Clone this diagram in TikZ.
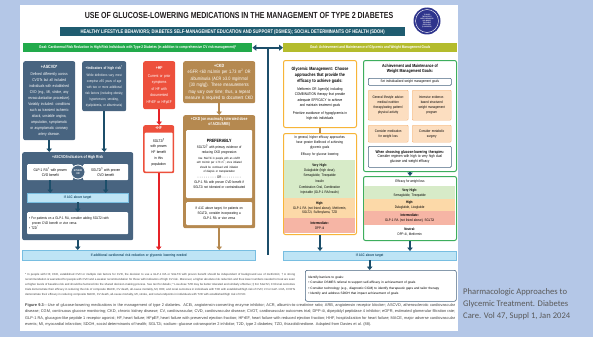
\documentclass[tikz,border=0pt]{standalone}
\usepackage{fontspec}
\setmainfont[FakeStretch=0.8]{Liberation Sans}
\newfontfamily\plainfont{Liberation Sans}
\newfontfamily\notefont{Carlito}
\usetikzlibrary{arrows.meta,positioning}

\definecolor{bgblue}{RGB}{180,199,231}
\definecolor{titleink}{RGB}{35,31,32}
\definecolor{bannerteal}{RGB}{31,92,112}
\definecolor{logoblue}{RGB}{46,52,140}
\definecolor{goalgreen}{RGB}{34,170,75}
\definecolor{goalolive}{RGB}{180,188,45}
\definecolor{slate}{RGB}{72,100,128}
\definecolor{arrowteal}{RGB}{28,78,106}
\definecolor{hfred}{RGB}{237,80,60}
\definecolor{hfarrow}{RGB}{230,35,40}
\definecolor{ckdtan}{RGB}{181,137,80}
\definecolor{barfill}{RGB}{190,228,245}
\definecolor{barline}{RGB}{120,190,225}
\definecolor{glyyellow}{RGB}{247,181,56}
\definecolor{bandgreen}{RGB}{215,235,200}
\definecolor{bandorange}{RGB}{252,217,168}
\definecolor{bandpink}{RGB}{246,181,165}
\definecolor{wtgreen}{RGB}{61,174,93}
\definecolor{optfill}{RGB}{252,222,192}
\definecolor{optline}{RGB}{245,180,120}
\definecolor{noteink}{RGB}{64,64,64}
\definecolor{capgray}{RGB}{89,89,89}

\newcommand{\tsize}[2]{\fontsize{#1}{#2}\selectfont}

\begin{document}
\begin{tikzpicture}[x=1pt, y=-1pt,
    every node/.style={inner sep=0pt},
    at nw/.style={anchor=north west},
    wh/.style 2 args={text width=#1pt, minimum height=#2pt},
    hdr/.style={at nw, minimum height=9pt, text=white, font={\bfseries\tsize{3.9}{4.5}}},
    riskbox/.style={at nw, fill=slate, rounded corners=2pt, text=white, align=center, font={\tsize{4}{6}}},
    hfbox/.style={at nw, fill=hfred, rounded corners=2pt, text=white, align=center, font={\tsize{4}{6.5}}},
    ckdbox/.style={at nw, fill=ckdtan, rounded corners=2pt, text=white, align=center, font={\tsize{4.8}{6.5}}},
    inbox/.style={at nw, fill=white, rounded corners=1pt, text=black, align=center},
    bar/.style={at nw, fill=barfill, draw=barline, line width=0.4pt, align=center, text=arrowteal, font={\bfseries\tsize{3.6}{4}}},
    glybox/.style={at nw, fill=white, draw=glyyellow, line width=1pt, rounded corners=2pt, align=center},
    wtbox/.style={at nw, fill=white, draw=wtgreen, line width=1pt, rounded corners=2pt},
    optbox/.style={at nw, fill=optfill, draw=optline, line width=0.4pt, rounded corners=1pt, align=center, font={\tsize{3.6}{5}}},
    bluebox/.style={at nw, fill=white, draw=slate, line width=0.6pt, rounded corners=1pt, align=center},
    band/.style={at nw, align=center, font={\tsize{3.6}{4.8}}},
    arr/.style={arrowteal, line width=1.8pt, -{Triangle[width=5.5pt,length=3.5pt]}},
    redarr/.style={arr, hfarrow},
    tanarr/.style={arr, ckdtan}]

\path[use as bounding box, fill=bgblue] (0,0) rectangle (593,337);
\fill[white] (20,5) rectangle (458,331);

\node[text=titleink, font={\bfseries\tsize{8.8}{9}}] (title) at (239,15) {USE OF GLUCOSE-LOWERING MEDICATIONS IN THE MANAGEMENT OF TYPE 2 DIABETES};
\node[circle, fill=logoblue, minimum size=27pt] (logo) at (427,21) {};
\draw[white, line width=0.4pt] (logo.center) circle (11.5);
\node[text=white, align=center, font={\bfseries\tsize{1.7}{2.1}}] (logotext) at (logo.center) {TO AVOID\\THERAPEUTIC\\INERTIA REASSESS\\AND MODIFY\\TREATMENT\\REGULARLY\\(3--6 MONTHS)};
\node[at nw, fill=bannerteal, minimum width=345pt, minimum height=9pt, text=white, font={\bfseries\tsize{5.2}{6}}] (banner) at (60,27) {HEALTHY LIFESTYLE BEHAVIORS; DIABETES SELF-MANAGEMENT EDUCATION AND SUPPORT (DSMES); SOCIAL DETERMINANTS OF HEALTH (SDOH)};

\node[hdr, fill=goalgreen, minimum width=229pt] (goalL) at (23,43) {Goal: Cardiorenal Risk Reduction in High-Risk Individuals with Type 2 Diabetes (in addition to comprehensive CV risk management)*};
\node[hdr, fill=goalolive, minimum width=174pt] (goalR) at (283,43) {Goal: Achievement and Maintenance of Glycemic and Weight Management Goals};
\coordinate (tee) at (268,47.5);
\coordinate (teefoot) at (268,255);
\draw[arrowteal, line width=2pt, {Triangle[width=6pt,length=4pt]}-{Triangle[width=6pt,length=4pt]}] (goalL.east) -- (goalR.west);
\draw[arrowteal, line width=2pt] (tee) -- (teefoot);

\node[riskbox, wh={52}{79}] (ascvd) at (23,61)
  {{\bfseries\tsize{4.6}{6}+ASCVD*\par}\vspace{1pt}
   Defined differently across\\CVOTs but all included\\individuals with established\\CVD (e.g., MI, stroke, any\\revascularization procedure).\\Variably included: conditions\\such as transient ischemic\\attack, unstable angina,\\amputation, symptomatic\\or asymptomatic coronary\\artery disease.};
\node[riskbox, wh={44}{50}, font={\tsize{3.5}{6}}] (risk) at (82,61)
  {{\bfseries\tsize{3.9}{6}+Indicators of high risk\textsuperscript{†}\par}\vspace{1pt}
   While definitions vary, most\\comprise ≥55 years of age\\with two or more additional\\risk factors (including obesity,\\hypertension, smoking,\\dyslipidemia, or albuminuria)};
\node[hfbox, wh={32}{48}] (hf) at (143,61)
  {{\bfseries\tsize{4.4}{6}+HF\par}\vspace{1pt}
   Current or prior\\symptoms\\of HF with\\documented\\HFrEF or HFpEF};
\node[ckdbox, wh={72}{42}] (ckd) at (183,61)
  {{\bfseries\tsize{4.6}{6}+CKD\par}
   eGFR <60 mL/min per 1.73 m\textsuperscript{2} OR\\albuminuria (ACR ≥3.0 mg/mmol\\{}[30 mg/g]). These measurements\\may vary over time; thus, a repeat\\measure is required to document CKD};

\node[hfbox, wh={31}{48}] (hfb) at (143,125) {};
\node[anchor=north, text=white, font={\bfseries\tsize{4.2}{5}}] (hfbtitle) at ([yshift=-1.5pt]hfb.north) {+HF};
\node[inbox, anchor=south, wh={28}{39}, font={\tsize{3.8}{5.8}}] (hfbtext) at ([yshift=1.5pt]hfb.south)
  {SGLT2i\textsuperscript{§}\\with proven\\HF benefit\\in this\\population};

\node[ckdbox, wh={72}{113}] (ckdb) at (183,115) {};
\node[anchor=north, text=white, align=center, font={\bfseries\tsize{4.2}{5}}] (ckdbtitle) at ([yshift=-2pt]ckdb.north) {+CKD (on maximally tolerated dose\\of ACEi/ARB)};
\node[inbox, wh={66}{68}, font={\tsize{3.6}{4.8}}] (ckdpref) at (186,130)
  {{\bfseries\tsize{4.6}{6}PREFERABLY\par}\vspace{1pt}
   SGLT2i\textsuperscript{§} with primary evidence of\\reducing CKD progression\par\vspace{2pt}
   {\tsize{3}{4.2}Use SGLT2i in people with an eGFR\\≥20 mL/min per 1.73 m\textsuperscript{2}; once initiated\\should be continued until initiation\\of dialysis or transplantation\par}\vspace{1pt}
   - - - - - - - - - OR - - - - - - - - -\par\vspace{1pt}
   GLP-1 RA with proven CVD benefit if\\SGLT2i not tolerated or contraindicated};
\node[inbox, wh={66}{23}, font={\tsize{3.6}{5}}] (ckdaddon) at (186,202)
  {If A1C above target, for patients on\\SGLT2i, consider incorporating a\\GLP-1 RA or vice versa};

\node[riskbox, wh={111}{88}] (grp) at (22,152) {};
\node[anchor=north, text=white, font={\bfseries\tsize{4.2}{5}}] (grptitle) at ([yshift=-3pt]grp.north) {+ASCVD/Indicators of High Risk};
\node[inbox, wh={46}{16}, font={\tsize{3.8}{5}}] (glp) at (27,164) {GLP-1 RA\textsuperscript{\#} with proven\\CVD benefit};
\node[inbox, wh={45}{16}, font={\tsize{3.8}{5}}] (sglt) at (83,164) {SGLT2i\textsuperscript{§} with proven\\CVD benefit};
\node[circle, fill=slate, draw=white, line width=0.8pt, minimum size=14pt, text=white, align=center, font={\bfseries\tsize{2.6}{3}}] (either) at (78,172) {EITHER/\\OR};
\node[bar, wh={101}{9}] (a1cL) at (27,193) {If A1C above target};
\node[inbox, wh={97}{22}, inner xsep=2pt, align=left, font={\tsize{3.6}{5}}] (addon) at (27,212)
  {• For patients on a GLP-1 RA, consider adding SGLT2i with\\\hspace*{3pt}proven CVD benefit or vice versa\\• TZD\textsuperscript{\textasciicircum}};
\node[bar, wh={233}{10}] (moreL) at (22,250) {If additional cardiorenal risk reduction or glycemic lowering needed};

\draw[arr] (ascvd.south) -- (ascvd.south |- grp.north);
\draw[arr] (risk.south) -- (risk.south |- grp.north);
\draw[arr] (glp.south) -- (glp.south |- a1cL.north);
\draw[arr] (sglt.south) -- (sglt.south |- a1cL.north);
\draw[arr] (a1cL.south) -- (a1cL.south |- addon.north);
\draw[arr] (grp.south) -- (grp.south |- moreL.north);
\draw[redarr] (hf.south) -- (hf.south |- hfb.north);
\draw[redarr] (hfb.south) -- (hfb.south |- moreL.north);
\draw[tanarr] (ckd.south) -- (ckd.south |- ckdb.north);
\draw[tanarr] (ckdb.south) -- (ckdb.south |- moreL.north);

\node[glybox, wh={73}{67}, font={\tsize{3.8}{5.3}}] (glyc) at (283,60)
  {{\bfseries\tsize{4.6}{5.8}Glycemic Management: Choose\\approaches that provide the\\efficacy to achieve goals:\par}\vspace{3pt}
   Metformin OR Agent(s) including\\COMBINATION therapy that provide\\adequate EFFICACY to achieve\\and maintain treatment goals\par\vspace{3pt}
   Prioritize avoidance of hypoglycemia in\\high-risk individuals};
\node[glybox, wh={73}{101}] (effg) at (283,133) {};
\node[at nw, text width=73pt, align=center, font={\tsize{3.6}{5}}] (efftop) at (283,136)
  {In general, higher efficacy approaches\\have greater likelihood of achieving\\glycemic goals\par\vspace{2pt}Efficacy for glucose lowering};
\node[band, fill=bandgreen, wh={71}{38}] (gvh) at (284,160)
  {{\bfseries Very High:}\\Dulaglutide (high dose),\\Semaglutide, Tirzepatide\par\vspace{1.5pt}Insulin\par\vspace{1.5pt}Combination Oral, Combination\\Injectable (GLP-1 RA/Insulin)};
\node[band, fill=bandorange, wh={71}{20}] (gh) at (284,198)
  {{\bfseries High:}\\GLP-1 RA (not listed above), Metformin,\\SGLT2i, Sulfonylurea, TZD};
\node[band, fill=bandpink, wh={71}{15}] (gi) at (284,218) {{\bfseries Intermediate:}\\DPP-4i};
\draw[ckdtan, line width=1.5pt] (glyc.south) -- (effg.north);

\node[wtbox, wh={93}{111}] (wt) at (363,60) {};
\node[anchor=north, align=center, font={\bfseries\tsize{4.4}{5.4}}] (wttitle) at ([yshift=-4pt]wt.north) {Achievement and Maintenance of\\Weight Management Goals:};
\node[bluebox, wh={83}{7}, font={\tsize{3.6}{4}}] (wtset) at (368,78) {Set individualized weight management goals};
\node[optbox, wh={40}{30}] (lifestyle) at (368,90) {General lifestyle advice:\\medical nutrition\\therapy/eating pattern/\\physical activity};
\node[optbox, wh={39}{30}] (program) at (412,90) {Intensive evidence-\\based structured\\weight management\\program};
\node[optbox, wh={40}{17}] (meds) at (368,125) {Consider medication\\for weight loss};
\node[optbox, wh={39}{17}] (surgery) at (412,125) {Consider metabolic\\surgery};
\node[bluebox, wh={83}{21}, font={\tsize{3.9}{4.8}}] (dual) at (368,146)
  {{\bfseries\tsize{4}{5}When choosing glucose-lowering therapies:\par}Consider regimen with high to very high dual\\glucose and weight efficacy};

\node[wtbox, wh={93}{64}] (wteff) at (363,176) {};
\node[anchor=north, font={\tsize{3.6}{4}}] (wtefftitle) at ([yshift=-3.5pt]wteff.north) {Efficacy for weight loss};
\node[band, fill=bandgreen, wh={91}{13}] (wvh) at (364,186) {{\bfseries Very High:}\\Semaglutide, Tirzepatide};
\node[band, fill=bandorange, wh={91}{12}] (whigh) at (364,199) {{\bfseries High:}\\Dulaglutide, Liraglutide};
\node[band, fill=bandpink, wh={91}{14}] (wint) at (364,211) {{\bfseries Intermediate:}\\GLP-1 RA (not listed above), SGLT2i};
\node[band, wh={91}{13}] (wneu) at (364,225) {{\bfseries Neutral:}\\DPP-4i, Metformin};
\draw[arr] (wt.south) -- (wteff.north);

\node[bar, wh={173}{9}] (a1cR) at (283,251) {If A1C above target};
\draw[arr] (effg.south) -- (effg.south |- a1cR.north);
\draw[arr] (wteff.south) -- (wteff.south |- a1cR.north);

\node[at nw, fill=white, draw=slate, line width=0.6pt, rounded corners=2pt, text width=145pt, inner xsep=3pt, minimum height=31pt, align=left, font={\plainfont\tsize{3.2}{5.4}}] (barriers) at (305,270)
  {Identify barriers to goals:\\
   • Consider DSMES referral to support self-efficacy in achievement of goals\\
   • Consider technology (e.g., diagnostic CGM) to identify therapeutic gaps and tailor therapy\\
   • Identify and address SDOH that impact achievement of goals};
\draw[arr] (a1cR.south) -- (a1cR.south |- barriers.north);

\node[at nw, text width=270pt, align=justify, text=noteink, font={\plainfont\tsize{2.85}{5}}] (foot) at (25,273)
  {* In people with HF, CKD, established CVD or multiple risk factors for CVD, the decision to use a GLP-1 RA or SGLT2i with proven benefit should be independent of background use of metformin; † A strong recommendation is warranted for people with CVD and a weaker recommendation for those with indicators of high CV risk. Moreover, a higher absolute risk reduction and thus lower numbers needed to treat are seen at higher levels of baseline risk and should be factored into the shared decision-making process. See text for details; \textasciicircum\ Low-dose TZD may be better tolerated and similarly effective; § For SGLT2i, CV/renal outcomes trials demonstrate their efficacy in reducing the risk of composite MACE, CV death, all-cause mortality, MI, HHF, and renal outcomes in individuals with T2D with established/high risk of CVD; \# For GLP-1 RA, CVOTs demonstrate their efficacy in reducing composite MACE, CV death, all-cause mortality, MI, stroke, and renal endpoints in individuals with T2D with established/high risk of CVD.};
\node[at nw, text width=430pt, align=justify, text=noteink, font={\plainfont\tsize{3.9}{6.5}}] (figcap) at (25,303)
  {\textbf{Figure 9.3}---Use of glucose-lowering medications in the management of type 2 diabetes. ACEi, angiotensin-converting enzyme inhibitor; ACR, albumin-to-creatinine ratio; ARB, angiotensin receptor blocker; ASCVD, atherosclerotic cardiovascular disease; CGM, continuous glucose monitoring; CKD, chronic kidney disease; CV, cardiovascular; CVD, cardiovascular disease; CVOT, cardiovascular outcomes trial; DPP-4i, dipeptidyl peptidase 4 inhibitor; eGFR, estimated glomerular filtration rate; GLP-1 RA, glucagon-like peptide 1 receptor agonist; HF, heart failure; HFpEF, heart failure with preserved ejection fraction; HFrEF, heart failure with reduced ejection fraction; HHF, hospitalization for heart failure; MACE, major adverse cardiovascular events; MI, myocardial infarction; SDOH, social determinants of health; SGLT2i, sodium--glucose cotransporter 2 inhibitor; T2D, type 2 diabetes; TZD, thiazolidinedione. Adapted from Davies et al. (88).};

\node[at nw, align=left, text=capgray, font={\notefont\tsize{8.6}{12}}] (source) at (463,288)
  {Pharmacologic Approaches to\\Glycemic Treatment. Diabetes\\Care. Vol 47, Suppl 1, Jan 2024};
\end{tikzpicture}
\end{document}
